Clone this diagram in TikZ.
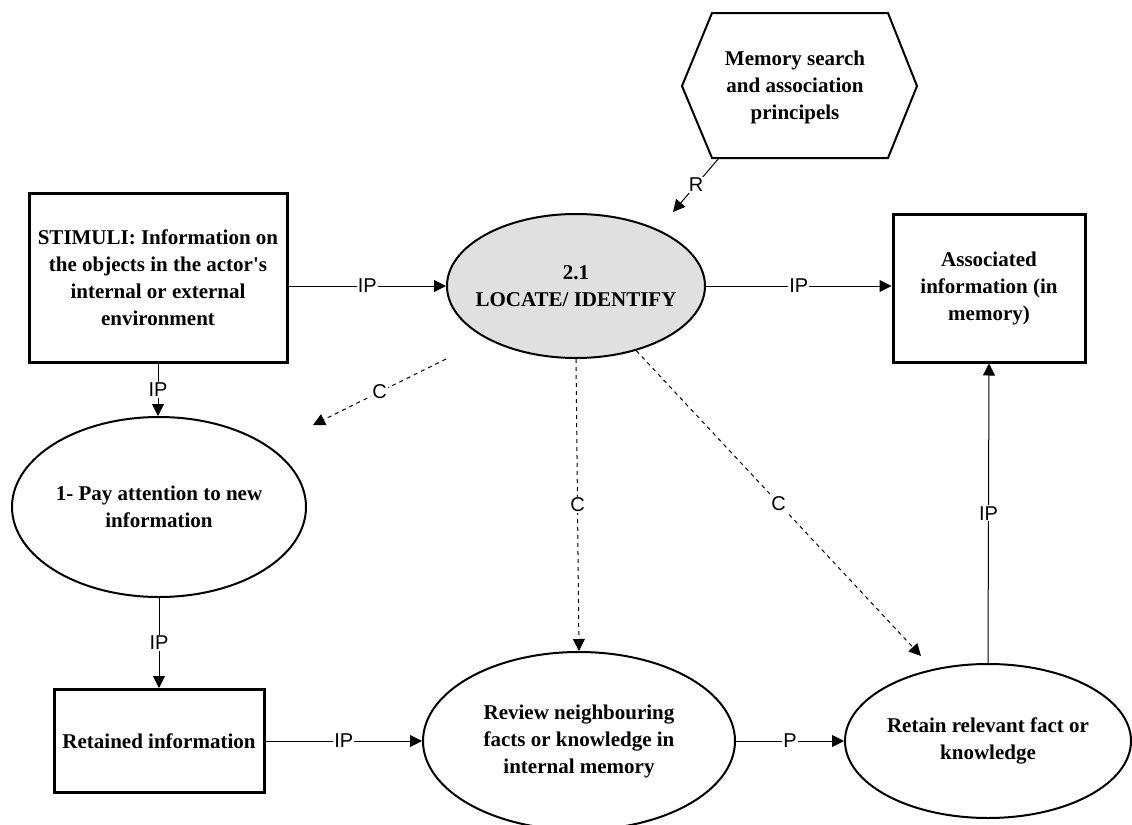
\documentclass[tikz,border=0pt]{standalone}
\usepackage{fontspec}
\setmainfont{Liberation Serif}
\setsansfont{Liberation Sans}
\usetikzlibrary{positioning,shapes.geometric,arrows.meta}
\definecolor{FILL1}{HTML}{E0E0E0}
\tikzset{
    Box/.style={draw,rectangle,line width=1.5pt,align=center,
        font=\bfseries\fontsize{10.5}{13.5}\selectfont},
    Ell/.style={draw,ellipse,line width=1pt,align=center,inner sep=0pt,inner xsep=-4pt,
        font=\bfseries\fontsize{10.5}{13.5}\selectfont},
    Lab/.style={fill=white,inner sep=0.6pt,font=\sffamily\fontsize{10}{11}\selectfont},
    Arr/.style={line width=0.5pt,-{Triangle[length=6pt,width=6pt]}},
    Dsh/.style={Arr,dash pattern=on 2pt off 2pt},
}
\begin{document}
\begin{tikzpicture}[x=0.5pt,y=-0.5pt]
    \useasboundingbox (0,0) rectangle (1132,825);

    % boxes
    \node[Box,minimum width=129pt,minimum height=84.5pt] (stim) at (158,278) {STIMULI: Information on\\the objects in the actor\textquotesingle s\\internal or external\\environment};
    \node[Box,minimum width=96pt,minimum height=74pt] (assoc) at (989,288) {Associated\\information (in\\memory)};
    \node[Box,minimum width=105pt,minimum height=51.5pt] (ret) at (159,741) {Retained information};

    % processes
    \node[Ell,fill=FILL1,minimum width=129pt,minimum height=72pt,inner xsep=-8pt] (loc) at (576,286) {2.1\\LOCATE/ IDENTIFY};
    \node[Ell,minimum width=147pt,minimum height=90pt] (pay) at (159,507) {1- Pay attention to new\\information};
    \node[Ell,minimum width=156pt,minimum height=89pt] (rev) at (579,741) {Review neighbouring\\facts or knowledge in\\internal memory};
    \node[Ell,minimum width=143pt,minimum height=77pt] (retk) at (988,741) {Retain relevant fact or\\knowledge};

    % resource
    \node[align=center,font=\bfseries\fontsize{10.5}{13.5}\selectfont] (mem) at (795,87) {Memory search\\and association\\principels};
    \draw[line width=1pt] (712,13) -- (888,13) -- (917,86) -- (888,158) -- (712,158) -- (682,86) -- cycle;

    \coordinate (rs) at (719,158);
    \coordinate (rt) at (673,212);
    \coordinate (c1) at (313,425);
    \coordinate (c3) at (921,656);

    \draw[Arr] (stim.east |- loc.west) -- node[Lab]{IP} (loc.west);
    \draw[Arr] (loc.east) -- node[Lab]{IP} (loc.east -| assoc.west);
    \draw[Arr] (rs) -- node[Lab]{R} (rt);
    \draw[Arr] (stim.south) -- node[Lab]{IP} (stim.south |- pay.north);
    \foreach \a/\b/\t in {pay.south/ret.north/IP,ret.east/rev.west/IP,rev.east/retk.west/P,retk.north/assoc.south/IP}{\draw[Arr](\a) -- node[Lab]{\t} (\b);}

    % control links
    \draw[Dsh] (loc.west |- loc.south) -- node[Lab]{C} (c1);
    \draw[Dsh] (loc.south) -- node[Lab]{C} (rev.north);
    \draw[Dsh] (loc.-47) -- node[Lab]{C} (c3);
\end{tikzpicture}
\end{document}
